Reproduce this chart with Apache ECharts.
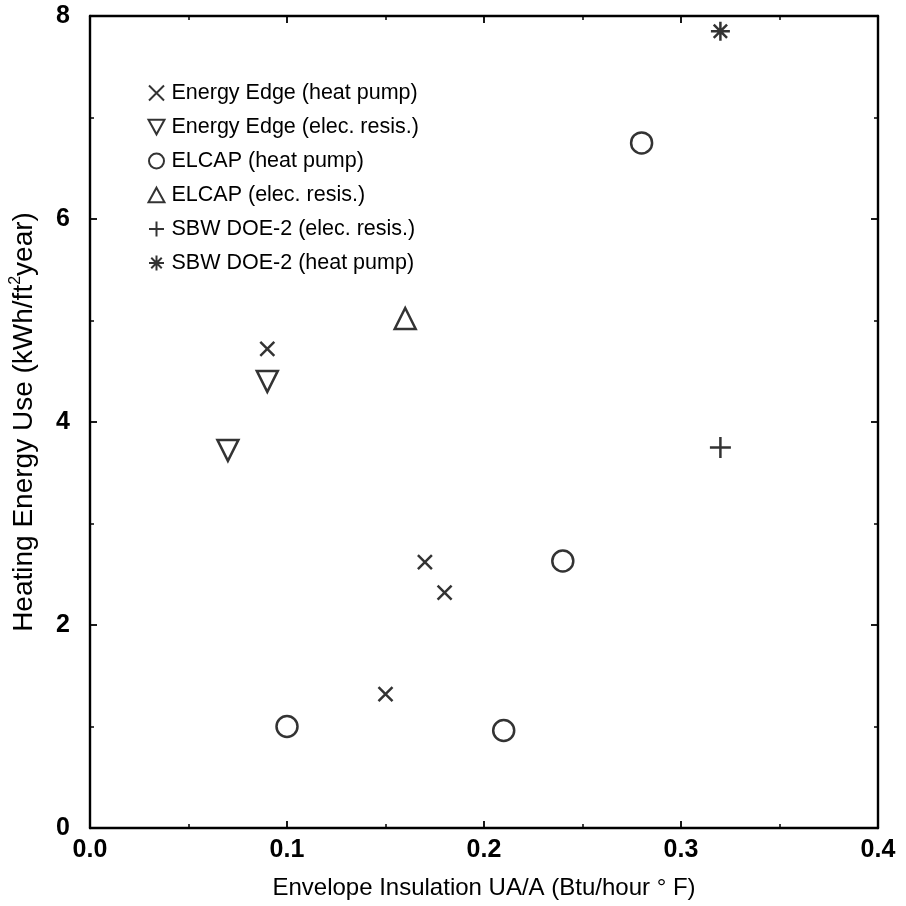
<!DOCTYPE html>
<html>
<head>
<meta charset="utf-8">
<script src="https://cdn.jsdelivr.net/npm/echarts@6/dist/echarts.min.js"></script>
<style>
html,body{margin:0;padding:0;background:#fff;}
#chart{width:906px;height:906px;}
</style>
</head>
<body>
<div id="chart"></div>
<script>
// Data (x: UA/A, y: kWh/ft2 year)
const seriesNames = [
  'Energy Edge (heat pump)',
  'Energy Edge (elec. resis.)',
  'ELCAP (heat pump)',
  'ELCAP (elec. resis.)',
  'SBW DOE-2 (elec. resis.)',
  'SBW DOE-2 (heat pump)'
];
const energyEdgeHP = [[0.09, 4.72], [0.17, 2.62], [0.18, 2.32], [0.15, 1.32]];
const energyEdgeER = [[0.09, 4.40], [0.07, 3.72]];
const elcapHP = [[0.10, 1.00], [0.21, 0.96], [0.24, 2.63], [0.28, 6.75]];
const elcapER = [[0.16, 5.02]];
const sbwER = [[0.32, 3.75]];
const sbwHP = [[0.32, 7.85]];
const xTicks = [0.0, 0.1, 0.2, 0.3, 0.4];
const yTicks = [0, 2, 4, 6, 8];

const FONT = '"Liberation Sans", Arial, Helvetica, sans-serif';

const symX = 'path://M0,0 L10,10 M10,0 L0,10';
const symDown = 'path://M0,0 L12,0 L6,11 Z';
const symUp = 'path://M6,0 L12,11 L0,11 Z';
const symPlus = 'path://M5,0 L5,10 M0,5 L10,5';
const symStar = 'path://M5,0 L5,10 M0,5 L10,5 M1.5,1.5 L8.5,8.5 M8.5,1.5 L1.5,8.5';

function mk(name, data, symbol, size) {
  return {
    name: name,
    type: 'scatter',
    data: data,
    symbol: symbol,
    symbolSize: size,
    itemStyle: { color: 'none', borderColor: '#000', borderWidth: 2.5 },
    emphasis: { disabled: true }
  };
}

const chart = echarts.init(document.getElementById('chart'), null, { renderer: 'canvas' });

const axisCommon = {
  min: 0,
  axisLine: { show: true, onZero: false, lineStyle: { color: '#000', width: 2.4 } },
  axisTick: { show: true, inside: true, length: 7, lineStyle: { color: '#000', width: 1.8 } },
  minorTick: { show: true, splitNumber: 2, length: 4, lineStyle: { color: '#000', width: 1.5 } },
  splitLine: { show: false }
};

chart.setOption({
  animation: false,
  backgroundColor: '#fff',
  grid: { left: 87, right: 28, top: 16, bottom: 78, containLabel: false },
  legend: {
    orient: 'vertical',
    left: 141,
    top: 77,
    itemGap: 12,
    itemWidth: 16,
    itemHeight: 15,
    data: seriesNames,
    itemStyle: { borderWidth: 2 },
    textStyle: { fontFamily: FONT, fontSize: 21.5, color: '#000', padding: [0, 0, 0, 2] },
    selectedMode: false
  },
  xAxis: [
    Object.assign({}, axisCommon, {
      type: 'value', max: 0.4, interval: 0.1, position: 'bottom',
      name: 'Envelope Insulation UA/A (Btu/hour ° F)',
      nameLocation: 'middle', nameGap: 48,
      nameTextStyle: { fontFamily: FONT, fontSize: 24, color: '#000' },
      axisLabel: {
        show: true, margin: 10, color: '#000', fontFamily: FONT, fontSize: 25, fontWeight: 'bold',
        formatter: function (v) { return xTicks.some(t => Math.abs(t - v) < 1e-9) ? v.toFixed(1) : ''; }
      }
    }),
    Object.assign({}, axisCommon, {
      type: 'value', max: 0.4, interval: 0.1, position: 'top',
      axisLabel: { show: false }
    })
  ],
  yAxis: [
    Object.assign({}, axisCommon, {
      type: 'value', max: 8, interval: 2, position: 'left',
      name: '{a|Heating Energy Use (kWh/ft}{s|2}{a|year)}',
      nameLocation: 'middle', nameGap: 49,
      nameTextStyle: {
        fontFamily: FONT, fontSize: 28, color: '#000',
        rich: {
          a: { fontFamily: FONT, fontSize: 28, lineHeight: 33, color: '#000' },
          s: { fontFamily: FONT, fontSize: 16, lineHeight: 18, verticalAlign: 'top', color: '#000' }
        }
      },
      axisLabel: {
        show: true, margin: 20, color: '#000', fontFamily: FONT, fontSize: 25, fontWeight: 'bold',
        formatter: function (v) { return yTicks.indexOf(v) >= 0 ? String(v) : ''; }
      }
    }),
    Object.assign({}, axisCommon, {
      type: 'value', max: 8, interval: 2, position: 'right',
      axisLabel: { show: false }
    })
  ],
  series: [
    mk(seriesNames[0], energyEdgeHP, symX, 14),
    mk(seriesNames[1], energyEdgeER, symDown, 21),
    mk(seriesNames[2], elcapHP, 'circle', 21),
    mk(seriesNames[3], elcapER, symUp, 21),
    mk(seriesNames[4], sbwER, symPlus, 21),
    mk(seriesNames[5], sbwHP, symStar, 19)
  ]
});
</script>
</body>
</html>
